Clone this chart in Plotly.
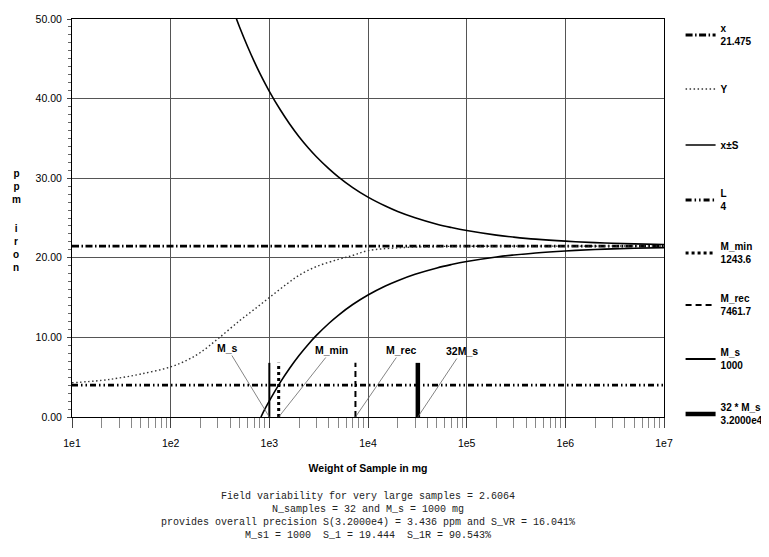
import math
import plotly.graph_objects as go

# ---------------- data ----------------
x_mean = 21.475
low_level = 4.0
mass_range = [10, 1e7]

mass_y = [10, 20, 30, 50, 100, 150, 200, 300, 500, 700, 1000, 1500, 2000, 3000,
          5000, 7000, 10000, 20000, 50000, 100000, 1000000, 10000000]
y_vals = [4.3, 4.6, 4.9, 5.4, 6.3, 7.2, 8.1, 9.8, 12.1, 13.5, 15.0, 16.7, 17.8, 18.9,
          19.8, 20.3, 20.9, 21.25, 21.42, 21.45, 21.47, 21.475]

mass_upper = [450, 500, 600, 700, 800, 1000, 1300, 1600, 2000, 2500, 3000, 4000, 5000,
              7000, 10000, 15000, 20000, 30000, 50000, 70000, 100000, 200000, 300000,
              500000, 1000000, 2000000, 3000000, 5000000, 10000000]
upper_vals = [50.46, 48.97, 46.58, 44.71, 43.21, 40.92, 38.53, 36.85, 35.22, 33.77, 32.70,
              31.20, 30.17, 28.82, 27.62, 26.50, 25.82, 25.03, 24.22, 23.80, 23.42, 22.85,
              22.60, 22.34, 22.09, 21.91, 21.83, 21.75, 21.67]

mass_lower = [822, 900, 1000, 1300, 1600, 2000, 2500, 3000, 4000, 5000, 7000, 10000, 15000,
              20000, 30000, 50000, 70000, 100000, 200000, 300000, 500000, 1000000, 2000000,
              3000000, 5000000, 10000000]
lower_vals = [0.0, 0.98, 2.03, 4.42, 6.10, 7.73, 9.18, 10.25, 11.75, 12.78, 14.13, 15.33,
              16.46, 17.13, 17.93, 18.73, 19.15, 19.53, 20.10, 20.35, 20.61, 20.86, 21.04,
              21.12, 21.20, 21.28]

marker_keys = ["M_min", "M_rec", "M_s", "32M_s"]
marker_mass = [1243.6, 7461.7, 1000, 32000]
marker_top = 6.8
marker_legend = ["M_min<br>1243.6", "M_rec<br>7461.7", "M_s<br>1000", "32 * M_s<br>3.2000e4"]
marker_label = ["M_min", "M_rec", "M_s", "32M_s"]

x_tickvals = [1e1, 1e2, 1e3, 1e4, 1e5, 1e6, 1e7]
x_ticktext = ["1e1", "1e2", "1e3", "1e4", "1e5", "1e6", "1e7"]

footer_lines = [
    "Field variability for very large samples = 2.6064",
    "N_samples = 32 and M_s = 1000 mg",
    "provides overall precision S(3.2000e4) = 3.436 ppm and S_VR = 16.041%",
    "M_s1 = 1000  S_1 = 19.444  S_1R = 90.543%",
]

# ---------------- styling ----------------
SANS = "Liberation Sans, Arial, sans-serif"
MONO = "Liberation Mono, Courier New, monospace"

# the page body has an 8px margin, so figure coords = screen coords - 8
W, H = 761, 549
L_MARGIN, R_MARGIN, T_MARGIN, B_MARGIN = 64, 105, 11, 140
plot_h = H - T_MARGIN - B_MARGIN
SCREEN_BOTTOM = H - B_MARGIN + 8  # screen y of the plot bottom


def py_to_paper(py):
    """screen pixel y -> paper y"""
    return (SCREEN_BOTTOM - py) / plot_h


fig = go.Figure()

legend_centers = [35, 89, 145, 200, 253, 305, 359, 414]
legend_ids = ["legend"] + ["legend%d" % i for i in range(2, 9)]

# x mean line
fig.add_trace(go.Scatter(
    x=mass_range, y=[x_mean, x_mean], mode="lines",
    line=dict(color="black", width=2.8, dash="7px,2.5px,1.5px,2.5px"),
    name="<b>x<br>21.475</b>", legend=legend_ids[0]))

# Y curve
fig.add_trace(go.Scatter(
    x=mass_y, y=y_vals, mode="lines", line_shape="spline",
    line=dict(color="#333", width=1.4, dash="1.5px,2.5px"),
    name="<b>Y</b>", legend=legend_ids[1]))

# x ± S
fig.add_trace(go.Scatter(
    x=mass_upper + [None] + mass_lower, y=upper_vals + [None] + lower_vals,
    mode="lines", line_shape="spline", connectgaps=False,
    line=dict(color="black", width=1.6),
    name="<b>x±S</b>", legend=legend_ids[2]))

# L line
fig.add_trace(go.Scatter(
    x=mass_range, y=[low_level, low_level], mode="lines",
    line=dict(color="black", width=2.8, dash="6px,3px,1.5px,3px,1.5px,3px"),
    name="<b>L<br>4</b>", legend=legend_ids[3]))

marker_styles = [
    dict(color="black", width=3, dash="3px,3px"),
    dict(color="black", width=2, dash="6px,4px"),
    dict(color="black", width=2),
    dict(color="black", width=4.5),
]
for i, m in enumerate(marker_mass):
    fig.add_trace(go.Scatter(
        x=[m, m], y=[0, marker_top], mode="lines",
        line=marker_styles[i],
        name="<b>" + marker_legend[i] + "</b>", legend=legend_ids[4 + i]))

# legends
legend_layout = {}
for lid, pc in zip(legend_ids, legend_centers):
    legend_layout[lid] = dict(
        x=1.028, xanchor="left", y=py_to_paper(pc), yanchor="middle",
        bgcolor="rgba(0,0,0,0)", borderwidth=0,
        font=dict(family=SANS, size=10, color="black"),
        itemwidth=30, valign="middle")

# marker labels with leader lines
label_offsets = [(53, -67), (46, -67), (-42, -69), (44, -66)]
annotations = []
for i, m in enumerate(marker_mass):
    ax, ay = label_offsets[i]
    annotations.append(dict(
        x=math.log10(m), y=0, xref="x", yref="y",
        text="<b>" + marker_label[i] + "</b>",
        showarrow=True, arrowhead=0, arrowwidth=0.8, arrowcolor="#666",
        ax=ax, ay=ay, font=dict(family=SANS, size=10.5, color="black")))

# y axis title (stacked letters)
annotations.append(dict(
    x=-0.094, y=py_to_paper(186), xref="paper", yref="paper",
    text="<b>p<br>p<br>m</b>", showarrow=False, xanchor="center", yanchor="middle",
    font=dict(family=SANS, size=10, color="black")))
annotations.append(dict(
    x=-0.094, y=py_to_paper(248), xref="paper", yref="paper",
    text="<b>i<br>r<br>o<br>n</b>", showarrow=False, xanchor="center", yanchor="middle",
    font=dict(family=SANS, size=10, color="black")))

# footer text
annotations.append(dict(
    x=0.5, y=py_to_paper(515.5), xref="paper", yref="paper",
    text="<br>".join(footer_lines), showarrow=False, xanchor="center", yanchor="middle",
    align="center", font=dict(family=MONO, size=10, color="#222")))

fig.update_layout(
    width=W, height=H,
    margin=dict(l=L_MARGIN, r=R_MARGIN, t=T_MARGIN, b=B_MARGIN, autoexpand=False),
    paper_bgcolor="white", plot_bgcolor="white",
    font=dict(family=SANS, size=10.5, color="black"),
    showlegend=True,
    annotations=annotations,
    **legend_layout,
)

fig.update_xaxes(
    type="log", range=[1, 7],
    tickvals=x_tickvals, ticktext=x_ticktext,
    ticks="outside", ticklen=10, tickcolor="#444", tickwidth=1,
    ticklabelstandoff=6,
    showgrid=True, gridcolor="#555", gridwidth=1,
    showline=True, linecolor="black", linewidth=1, mirror=True,
    zeroline=False,
    minor=dict(ticks="outside", ticklen=10, tickcolor="#888", tickwidth=1,
               dtick="D1", showgrid=False),
    tickfont=dict(family=SANS, size=10.5, color="black"),
    title=dict(text="<b>Weight of Sample in mg</b>", standoff=17,
               font=dict(family=SANS, size=10.5, color="black")),
)

fig.update_yaxes(
    range=[0, 50], tickmode="linear", tick0=0, dtick=10, tickformat=".2f",
    ticks="outside", ticklen=4, tickcolor="#444",
    ticklabelstandoff=3,
    showgrid=True, gridcolor="#555", gridwidth=1,
    showline=True, linecolor="black", linewidth=1, mirror=True,
    zeroline=False,
    minor=dict(ticks="outside", ticklen=3, tickcolor="#666", dtick=1, showgrid=False),
    tickfont=dict(family=SANS, size=10.5, color="black"),
)

fig.write_html("out.html")
